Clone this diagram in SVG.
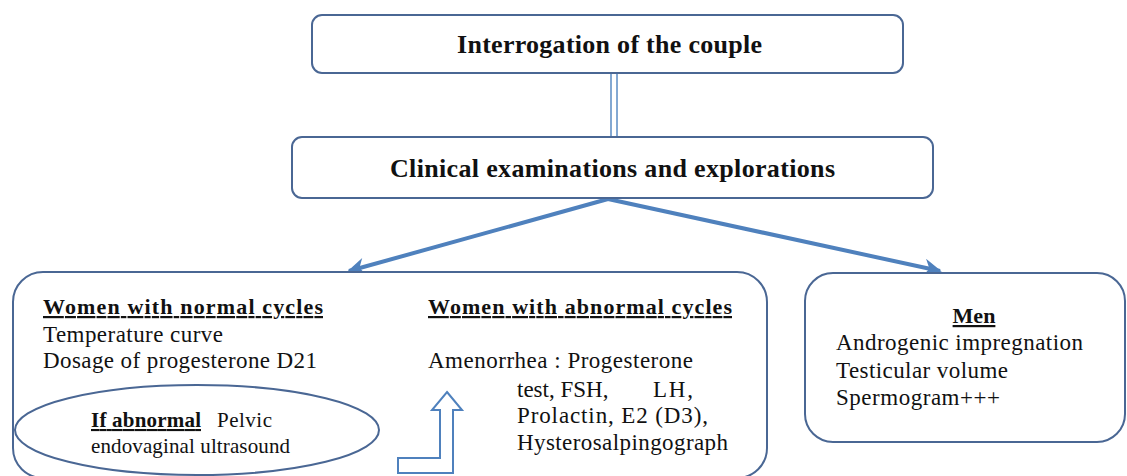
<svg xmlns="http://www.w3.org/2000/svg" width="1127" height="476" viewBox="0 0 1127 476">
<defs>
<style>
.box{fill:#ffffff;stroke:#4a6794;stroke-width:2}
.t{font-family:"Liberation Serif","Times New Roman",serif;fill:#111111}
.b{font-weight:bold}
.u{text-decoration:underline}
.conn{stroke:#4f81bd;stroke-width:4;fill:none}
</style>
<marker id="ah" viewBox="0 0 10 10" refX="9" refY="5" markerWidth="5" markerHeight="4.5" orient="auto" markerUnits="strokeWidth">
<path d="M0,0 L10,5 L0,10 L3,5 z" fill="#4f81bd"/>
</marker>
</defs>
<rect width="1127" height="476" fill="#ffffff"/>
<g id="connectors">
<rect x="611" y="73" width="6" height="64" fill="#ffffff" stroke="#5b8cc4" stroke-width="1.5"/>
<line class="conn" x1="608" y1="199" x2="349" y2="271" marker-end="url(#ah)"/>
<line class="conn" x1="608" y1="199" x2="940" y2="271" marker-end="url(#ah)"/>
</g>
<g id="interrogation">
<rect class="box" x="312" y="15" width="591" height="58" rx="10"/>
<text class="t b" x="609.5" y="53" font-size="26" text-anchor="middle" textLength="305">Interrogation of the couple</text>
</g>
<g id="clinical">
<rect class="box" x="292" y="137" width="641" height="61" rx="10"/>
<text class="t b" x="612.5" y="177" font-size="26" text-anchor="middle" textLength="445">Clinical examinations and explorations</text>
</g>
<g id="women">
<rect class="box" x="13" y="272" width="754" height="206" rx="30"/>
<text class="t b u" x="43" y="314" font-size="22" textLength="280">Women with normal cycles</text>
<text class="t" x="43" y="342" font-size="23" textLength="180">Temperature curve</text>
<text class="t" x="43" y="368" font-size="23" textLength="274">Dosage of progesterone D21</text>
<text class="t b u" x="428" y="314" font-size="22" textLength="304">Women with abnormal cycles</text>
<text class="t" x="428" y="368" font-size="23" textLength="265">Amenorrhea : Progesterone</text>
<text class="t" x="517" y="397" font-size="23">test, FSH,</text>
<text class="t" x="653" y="397" font-size="23" textLength="40">LH,</text>
<text class="t" x="517" y="423" font-size="23" textLength="191">Prolactin, E2 (D3),</text>
<text class="t" x="517" y="450" font-size="23" textLength="211">Hysterosalpingograph</text>
<polygon points="447,392 462,410 453,410 453,473 398,473 398,458 440,458 440,410 432,410" fill="#ffffff" stroke="#4f81bd" stroke-width="2"/>
</g>
<g id="if-abnormal">
<ellipse cx="197" cy="430" rx="182" ry="45" fill="none" stroke="#4a6794" stroke-width="2"/>
<text class="t b u" x="91" y="427" font-size="21" textLength="110">If abnormal</text>
<text class="t" x="217" y="427" font-size="21" textLength="55">Pelvic</text>
<text class="t" x="91" y="453" font-size="21" textLength="199">endovaginal ultrasound</text>
</g>
<g id="men">
<rect class="box" x="805" y="273" width="320" height="169" rx="28"/>
<text class="t b u" x="974" y="323" font-size="22" text-anchor="middle">Men</text>
<text class="t" x="836" y="350" font-size="23" textLength="247">Androgenic impregnation</text>
<text class="t" x="836" y="378" font-size="23" textLength="172">Testicular volume</text>
<text class="t" x="836" y="405" font-size="23" textLength="164">Spermogram+++</text>
</g>
</svg>
